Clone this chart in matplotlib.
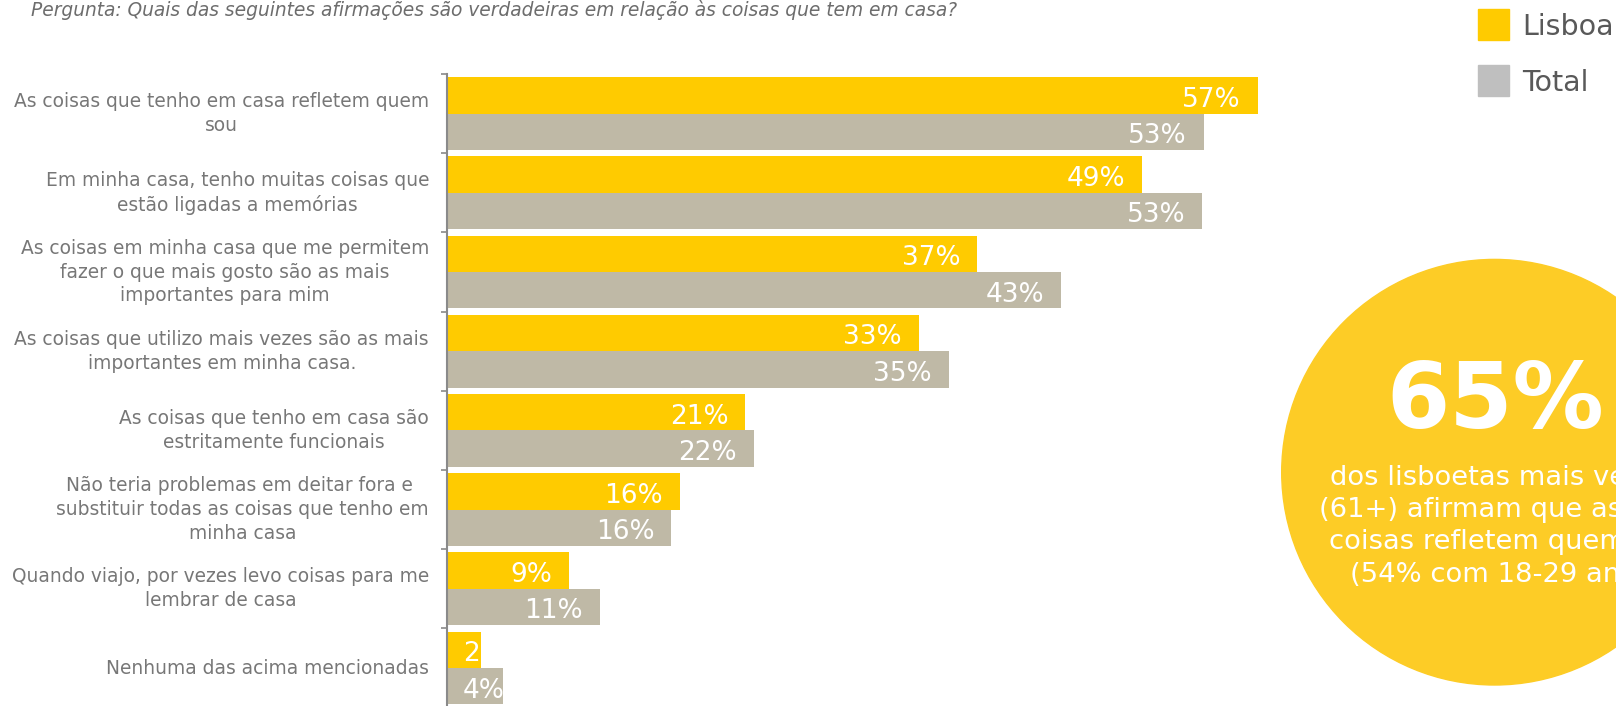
import numpy as np
import matplotlib
matplotlib.use('Agg')
import matplotlib.pyplot as plt
import matplotlib.transforms as mtransforms
from matplotlib.patches import Rectangle, Circle

# Data
categories = [
    "As coisas que tenho em casa refletem quem\nsou",
    "Em minha casa, tenho muitas coisas que\nestão ligadas a memórias",
    "As coisas em minha casa que me permitem\nfazer o que mais gosto são as mais\nimportantes para mim",
    "As coisas que utilizo mais vezes são as mais\nimportantes em minha casa.",
    "As coisas que tenho em casa são\nestritamente funcionais",
    "Não teria problemas em deitar fora e \nsubstituir todas as coisas que tenho em\nminha casa",
    "Quando viajo, por vezes levo coisas para me\nlembrar de casa",
    "Nenhuma das acima mencionadas",
]
lisboa = [57.0, 48.9, 37.3, 33.2, 21.0, 16.4, 8.6, 2.4]
total = [53.2, 53.1, 43.2, 35.3, 21.6, 15.8, 10.8, 4.0]
series_names = ["Lisboa", "Total"]

title = "Pergunta: Quais das seguintes afirmações são verdadeiras em relação às coisas que tem em casa?"
big_number = "65%"
circle_lines = [
    "dos lisboetas mais velhos",
    "(61+) afirmam que as suas",
    "coisas refletem quem são",
    "(54% com 18-29 anos)",
]

yellow = '#FFCB00'
bar_gray = '#BFB9A6'
legend_gray = '#BFBFBF'
circle_yellow = '#FDCC26'
label_gray = '#777777'

W, H = 1616, 706
fig = plt.figure(figsize=(W / 100, H / 100), dpi=100)

# axes: left edge at the axis line, top at first tick, bottom just below the figure
ax_left, ax_top, ax_bottom = 446.5, 74, 707.6
px_per_pct = 14.23
ax = fig.add_axes([ax_left / W, 1 - ax_bottom / H, (W - ax_left) / W, (ax_bottom - ax_top) / H])
ax.set_xlim(0, (W - ax_left) / px_per_pct)
ax.set_ylim(len(categories) - 0.5, -0.5)

y = np.arange(len(categories))
h = 0.46
bars_l = ax.barh(y - h / 2, lisboa, height=h, color=yellow)
bars_t = ax.barh(y + h / 2, total, height=h, color=bar_gray)

for s in ['top', 'right', 'bottom']:
    ax.spines[s].set_visible(False)
ax.spines['left'].set_color('#8a8a8a')
ax.spines['left'].set_linewidth(1.5)
ax.set_xticks([])
ax.set_yticks(np.arange(-0.5, len(categories), 1.0))
ax.tick_params(axis='y', length=4, width=1.2, color='#8a8a8a', labelleft=False)

# value labels inside the bars (clipped to the bar like the original)
pad = 17 / px_per_pct
for bars, vals in [(bars_l, lisboa), (bars_t, total)]:
    for rect, v in zip(bars, vals):
        yc = rect.get_y() + rect.get_height() / 2
        txt = f"{round(v)}%"
        if v >= 6:
            t = ax.text(v - pad, yc + 0.145, txt, ha='right', va='baseline',
                        color='white', fontsize=19)
        else:
            t = ax.text(1.16, yc + 0.145, txt, ha='left', va='baseline',
                        color='white', fontsize=19)
        t.set_clip_path(rect)

# category labels
trans = mtransforms.blended_transform_factory(ax.transAxes, ax.transData) + \
    mtransforms.ScaledTranslation(-17.5 / 100, 0, fig.dpi_scale_trans)
for i, cat in enumerate(categories):
    ax.text(0, i, cat, transform=trans, ha='right', va='center', multialignment='center',
            fontsize=13.4, color=label_gray, linespacing=1.32)

# question at the top
fig.text(31 / W, 1 - 16.5 / H, title, style='italic', fontsize=13.4, color='#6d6d6d', va='baseline')

# legend
for (name, col, top) in [(series_names[0], yellow, 9), (series_names[1], legend_gray, 65)]:
    fig.add_artist(Rectangle((1477.7 / 100, (H - top - 31) / 100), 0.313, 0.31,
                             transform=fig.dpi_scale_trans, color=col, zorder=3))
    fig.text(1522 / W, 1 - (top + 15.5 + 10.5) / H, name, fontsize=20.5, color='#595959',
             va='baseline', zorder=3)

# highlight circle
fig.add_artist(Circle((1494.5 / 100, (H - 472.2) / 100), 2.128,
                      transform=fig.dpi_scale_trans, color=circle_yellow, zorder=2))
fig.text(1386 / W, 1 - 428.3 / H, big_number, fontsize=65.5, fontweight='bold', color='white',
         ha='left', va='baseline', zorder=3)
for k, line in enumerate(circle_lines):
    fig.text(1506 / W, 1 - (485 + 32.2 * k) / H, line, fontsize=19.7, color='white',
             ha='center', va='baseline', zorder=3)

fig.savefig('out.png', dpi=100)
